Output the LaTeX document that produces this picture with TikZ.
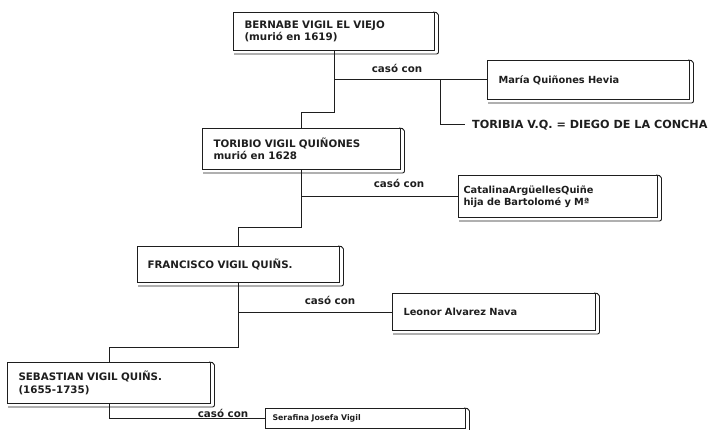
\documentclass[tikz,border=0pt]{standalone}
\usepackage{fontspec}
\setmainfont{DejaVu Sans}
\definecolor{ink}{HTML}{1E1E1E}
\newcommand\slab[1]{\draw[wire,line width=0.9pt,rounded corners=2pt] ([xshift=1pt,yshift=-3pt]#1.south west) -- ([xshift=3.5pt,yshift=-3pt]#1.south east) -- ([xshift=3.5pt,yshift=-1pt]#1.north east) -- ([xshift=-2pt]#1.north east);}
\begin{document}
\begin{tikzpicture}[x=1pt,y=-1pt,
  wire/.style={draw=ink,line width=1pt},
  pbox/.style={draw=ink,line width=1pt,fill=white,inner xsep=11pt,inner ysep=0pt,align=left,anchor=north west,text=ink,font=\bfseries\fontsize{10.3}{12.5}\selectfont},
  sbox/.style={pbox,font=\bfseries\fontsize{9.8}{12}\selectfont},
  lbl/.style={font=\bfseries\fontsize{10.3}{12}\selectfont,inner sep=0pt,text=ink}]
\useasboundingbox (0,0) rectangle (711,430);
% boxes
\node[pbox,text width=179pt,minimum height=38pt] (b1) at (233,12) {BERNABE VIGIL EL VIEJO\\(murió en 1619)};
\node[sbox,text width=180pt,minimum height=39pt] (m) at (487,60) {María Quiñones Hevia};
\node[pbox,text width=176pt,minimum height=41pt] (b2) at (202,128) {TORIBIO VIGIL QUIÑONES\\murió en 1628};
\node[sbox,inner xsep=5pt,text width=189pt,minimum height=42pt] (cat) at (458,175) {CatalinaArgüellesQuiñe\\hija de Bartolomé y Mª};
\node[pbox,inner xsep=10pt,text width=182pt,minimum height=36pt] (b3) at (137,246) {FRANCISCO VIGIL QUIÑS.};
\node[sbox,text width=181pt,minimum height=37pt] (leo) at (392,293) {Leonor Alvarez Nava};
\node[pbox,text width=181pt,minimum height=41pt] (b4) at (7,362) {SEBASTIAN VIGIL QUIÑS.\\(1655-1735)};
\node[pbox,inner xsep=7pt,text width=186pt,minimum height=20pt,font=\bfseries\fontsize{7.8}{9}\selectfont] (ser) at (265,408) {Serafina Josefa Vigil};
\node[lbl,anchor=west,inner xsep=7pt,font=\bfseries\fontsize{11.2}{12}\selectfont] (tor) at (465,125) {TORIBIA V.Q. = DIEGO DE LA CONCHA};
% shadows
\slab{b1}\slab{m}\slab{b2}\slab{cat}\slab{b3}\slab{leo}\slab{b4}\slab{ser}
% labels
\node[lbl] (c1) at (397,68) {casó con};
\node[lbl] (c2) at (399,183) {casó con};
\node[lbl] (c3) at (330,300) {casó con};
\node[lbl] (c4) at (223,413) {casó con};
% junctions
\coordinate (j1) at (0,113);
\coordinate (j2) at (0,227);
\coordinate (j3) at (0,347);
\coordinate (t0) at (440,0);
% connectors
\draw[wire] (b1.south) -- (b1.south |- j1) -| (b2.north);
\draw[wire] (b1.south |- m.west) -- (m.west);
\draw[wire] (t0 |- m.west) |- (tor.west);
\draw[wire] (b2.south) -- (b2.south |- j2) -| (b3.north);
\draw[wire] (b2.south |- cat.west) -- (cat.west);
\draw[wire] (b3.south) -- (b3.south |- j3) -| (b4.north);
\draw[wire] (b3.south |- leo.west) -- (leo.west);
\draw[wire] (b4.south) |- (ser.west);
\end{tikzpicture}
\end{document}
